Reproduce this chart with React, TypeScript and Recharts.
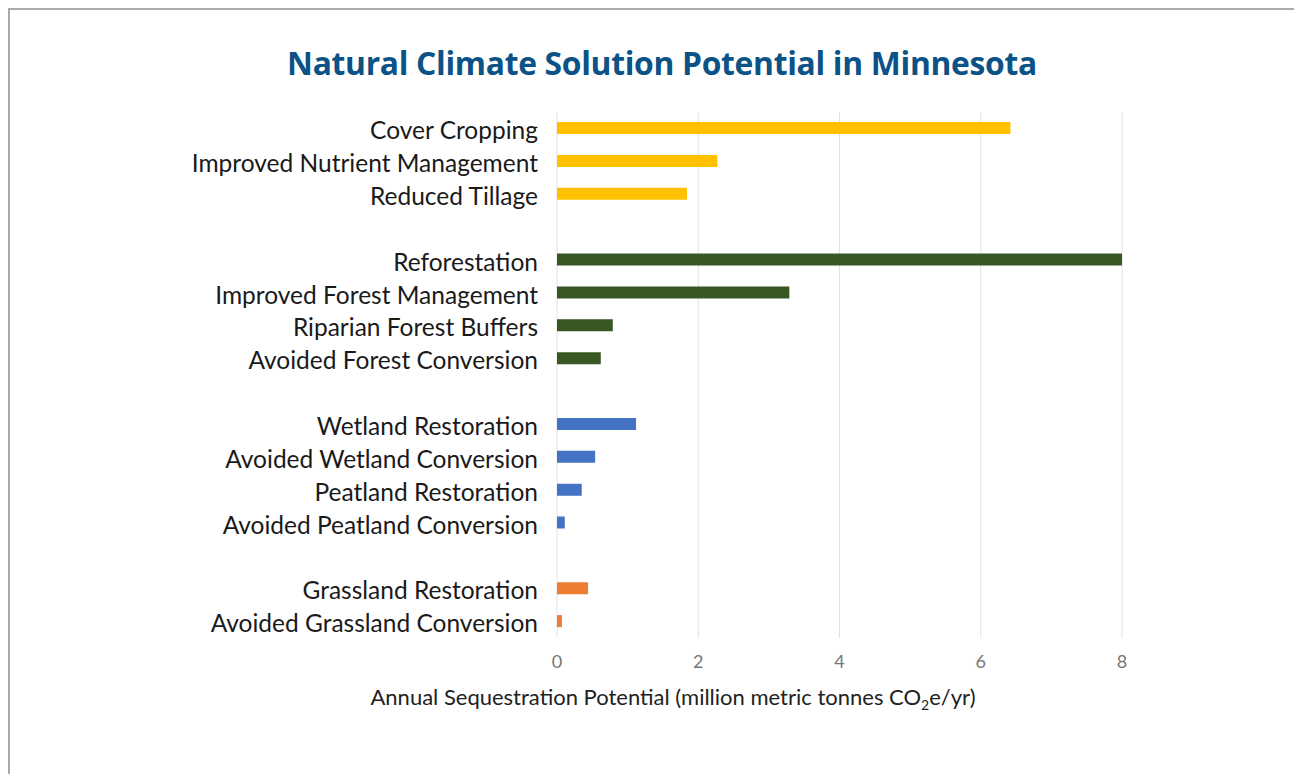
import React from 'react';
import { BarChart, Bar, XAxis, YAxis, CartesianGrid, Cell } from 'recharts';

const agricultureLabels = ['Cover Cropping', 'Improved Nutrient Management', 'Reduced Tillage'];
const agricultureValues = [6.42, 2.27, 1.84];

const forestLabels = ['Reforestation', 'Improved Forest Management', 'Riparian Forest Buffers', 'Avoided Forest Conversion'];
const forestValues = [8.0, 3.29, 0.79, 0.62];

const wetlandLabels = ['Wetland Restoration', 'Avoided Wetland Conversion', 'Peatland Restoration', 'Avoided Peatland Conversion'];
const wetlandValues = [1.12, 0.54, 0.35, 0.11];

const grasslandLabels = ['Grassland Restoration', 'Avoided Grassland Conversion'];
const grasslandValues = [0.44, 0.07];

const xTicks = [0, 2, 4, 6, 8];

const groups = [
  { labels: agricultureLabels, values: agricultureValues, color: '#FFC000' },
  { labels: forestLabels, values: forestValues, color: '#385723' },
  { labels: wetlandLabels, values: wetlandValues, color: '#4472C4' },
  { labels: grasslandLabels, values: grasslandValues, color: '#ED7D31' },
];

type Row = { name: string; value: number | null; color: string };

// blank rows between groups give the gaps
const rows: Row[] = [];
groups.forEach((g, gi) => {
  if (gi > 0) rows.push({ name: `gap${gi}`, value: null, color: 'none' });
  g.labels.forEach((l, i) => rows.push({ name: l, value: g.values[i], color: g.color }));
});

const FONT = 'Lato, "Open Sans", sans-serif';

export default function App() {
  return (
    <div style={{ position: 'relative', width: 1294, height: 766, background: '#fff', fontFamily: FONT }}>
      <div
        style={{
          position: 'absolute',
          left: 0,
          top: 0,
          width: 1294,
          height: 766,
          borderLeft: '2px solid #aaa',
          borderTop: '2px solid #aaa',
          boxSizing: 'border-box',
        }}
      />
      <div
        style={{
          position: 'absolute',
          left: 7,
          width: 1294,
          top: 33,
          textAlign: 'center',
          fontFamily: '"Open Sans", sans-serif',
          fontWeight: 700,
          fontSize: 31.8,
          color: '#0B5286',
          letterSpacing: -0.3,
        }}
      >
        Natural Climate Solution Potential in Minnesota
      </div>
      <BarChart
        width={1294}
        height={766}
        data={rows}
        layout="vertical"
        margin={{ top: 104, right: 180, bottom: 96, left: 0 }}
        barCategoryGap={0}
      >
        <CartesianGrid horizontal={false} stroke="#e2e2e2" />
        <XAxis
          type="number"
          domain={[0, 8]}
          ticks={xTicks}
          axisLine={false}
          tickLine={false}
          tickSize={0}
          tickMargin={17}
          height={40}
          tick={{ fill: '#777', fontSize: 18, fontFamily: FONT }}
        />
        <YAxis
          type="category"
          dataKey="name"
          width={549}
          axisLine={false}
          tickLine={false}
          tickSize={0}
          tickMargin={19}
          interval={0}
          tickFormatter={(v: string) => (v.startsWith('gap') ? '' : v)}
          tick={{ fill: '#1a1a1a', fontSize: 24.5, fontFamily: FONT, dy: 2 }}
        />
        <Bar dataKey="value" barSize={12} isAnimationActive={false}>
          {rows.map((r, i) => (
            <Cell key={i} fill={r.color} />
          ))}
        </Bar>
      </BarChart>
      <div
        style={{
          position: 'absolute',
          left: 0,
          width: 1330,
          top: 675,
          textAlign: 'center',
          fontSize: 22,
          color: '#222',
        }}
      >
        Annual Sequestration Potential (million metric tonnes CO<sub style={{ fontSize: 14 }}>2</sub>e/yr)
      </div>
    </div>
  );
}
